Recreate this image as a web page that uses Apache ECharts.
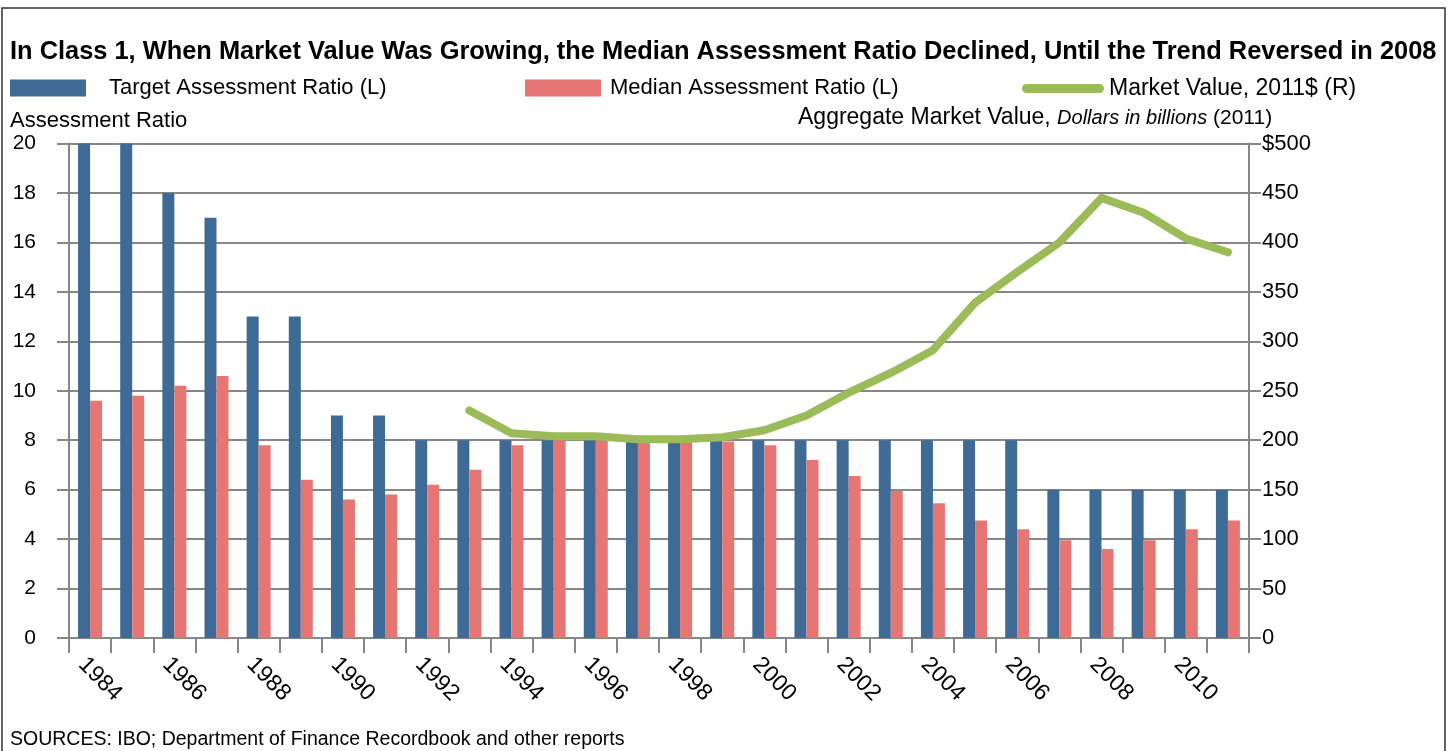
<!DOCTYPE html>
<html><head><meta charset="utf-8">
<script src="https://cdn.jsdelivr.net/npm/echarts@6/dist/echarts.min.js"></script>
<style>html,body{margin:0;padding:0;background:#fff}#chart{width:1455px;height:751px}</style>
</head><body><div id="chart"></div>
<script>
const years = ['1984','1985','1986','1987','1988','1989','1990','1991','1992','1993','1994','1995','1996','1997','1998','1999','2000','2001','2002','2003','2004','2005','2006','2007','2008','2009','2010','2011'];
const targetRatio = [20,20,18,17,13,13,9,9,8,8,8,8,8,8,8,8,8,8,8,8,8,8,8,6,6,6,6,6];
const medianRatio = [9.6,9.8,10.2,10.6,7.8,6.4,5.6,5.8,6.2,6.8,7.8,8.0,8.0,7.95,7.95,7.95,7.8,7.2,6.55,5.95,5.45,4.75,4.4,3.95,3.6,3.95,4.4,4.75];
const marketValue = [null,null,null,null,null,null,null,null,null,230,207,204,204,201,201,203,210,225,248,268,291,339,370,400,445,430,404,390];
const seriesNames = ['Target Assessment Ratio (L)','Median Assessment Ratio (L)','Market Value, 2011$ (R)'];
const titleText = 'In Class 1, When Market Value Was Growing, the Median Assessment Ratio Declined, Until the Trend Reversed in 2008';
const sourceText = 'SOURCES: IBO; Department of Finance Recordbook and other reports';

const BLUE = '#3E6A96', PINK = '#E57674', GREEN = '#9BBB59', GRID = '#878787';
const FONT = 'Liberation Sans';

// fit title width to the reference span
const cv = document.createElement('canvas').getContext('2d');
cv.font = 'bold 100px "Liberation Sans"';
const titleSize = Math.min(30, 100 * 1427 / cv.measureText(titleText).width);

const chart = echarts.init(document.getElementById('chart'));
chart.setOption({
  animation: false,
  backgroundColor: '#fff',
  title: {
    text: titleText, left: 10, top: 55 - titleSize * 0.62, padding: 0,
    textStyle: {fontFamily: FONT, fontWeight: 'bold', fontSize: titleSize, color: '#000'}
  },
  legend: [
    {left: 10, top: 77, padding: 0, itemWidth: 76, itemHeight: 17, icon: 'rect', data: [seriesNames[0]],
     textStyle: {fontFamily: FONT, fontSize: 22, color: '#000', padding: [0,0,0,18]}, selectedMode: false},
    {left: 525, top: 77, padding: 0, itemWidth: 76, itemHeight: 17, icon: 'rect', data: [seriesNames[1]],
     textStyle: {fontFamily: FONT, fontSize: 22, color: '#000', padding: [0,0,0,4]}, selectedMode: false},
    {left: 1022, top: 77, padding: 0, itemWidth: 82, itemHeight: 9,
     data: [{name: seriesNames[2], icon: 'path://M4.5,0 H77.5 A4.5,4.5 0 0 1 77.5,9 H4.5 A4.5,4.5 0 0 1 4.5,0 Z'}],
     itemStyle: {color: GREEN, borderWidth: 0},
     textStyle: {fontFamily: FONT, fontSize: 23, color: '#000'}, selectedMode: false}
  ],
  grid: {left: 69, right: 206, top: 143.5, bottom: 113, containLabel: false},
  xAxis: {
    type: 'category', data: years, boundaryGap: true,
    axisLine: {show: true, lineStyle: {color: GRID, width: 2}},
    axisTick: {show: true, interval: 0, length: 15, lineStyle: {color: GRID, width: 2}},
    axisLabel: {interval: 1, rotate: -45, margin: 15, verticalAlign: 'top', fontFamily: FONT, fontSize: 23, color: '#000'}
  },
  yAxis: [
    {type: 'value', min: 0, max: 20, interval: 2, position: 'left',
     axisLine: {show: true, lineStyle: {color: GRID, width: 2}},
     axisTick: {show: true, length: 12, lineStyle: {color: GRID, width: 2}},
     splitLine: {show: true, lineStyle: {color: GRID, width: 2}},
     axisLabel: {margin: 33, fontFamily: FONT, fontSize: 21, color: '#000'}},
    {type: 'value', min: 0, max: 500, interval: 50, position: 'right',
     axisLine: {show: true, lineStyle: {color: GRID, width: 2}},
     axisTick: {show: true, length: 12, lineStyle: {color: GRID, width: 2}},
     splitLine: {show: false},
     axisLabel: {margin: 13, fontFamily: FONT, fontSize: 22, color: '#000',
       formatter: v => v === 500 ? '$500' : String(v)}}
  ],
  series: [
    {name: seriesNames[0], type: 'bar', data: targetRatio, yAxisIndex: 0, barWidth: 12, barGap: '0%',
     itemStyle: {color: BLUE}},
    {name: seriesNames[1], type: 'bar', data: medianRatio, yAxisIndex: 0, barWidth: 12, barGap: '0%',
     itemStyle: {color: PINK}},
    {name: seriesNames[2], type: 'line', data: marketValue, yAxisIndex: 1, symbol: 'none', z: 5,
     itemStyle: {color: GREEN},
     lineStyle: {color: GREEN, width: 8, cap: 'round', join: 'round'}}
  ],
  graphic: [
    {type: 'rect', shape: {x: 2, y: 8, width: 1443, height: 800}, style: {fill: null, stroke: '#333', lineWidth: 1.5}, silent: true},
    {type: 'text', x: 10, y: 121, style: {text: 'Assessment Ratio', fontFamily: FONT, fontSize: 22, fill: '#000', verticalAlign: 'middle'}},
    {type: 'text', x: 798, y: 118, style: {
      text: '{a|Aggregate Market Value, }{b|Dollars in billions}{c| (2011)}',
      verticalAlign: 'middle',
      rich: {a: {fontFamily: FONT, fontSize: 23, fill: '#000'},
             b: {fontFamily: FONT, fontSize: 20, fontStyle: 'italic', fill: '#000'},
             c: {fontFamily: FONT, fontSize: 21, fill: '#000'}}}},
    {type: 'text', x: 10, y: 740, style: {text: sourceText, fontFamily: FONT, fontSize: 19.5, fill: '#000', verticalAlign: 'middle'}}
  ]
});
</script></body></html>
